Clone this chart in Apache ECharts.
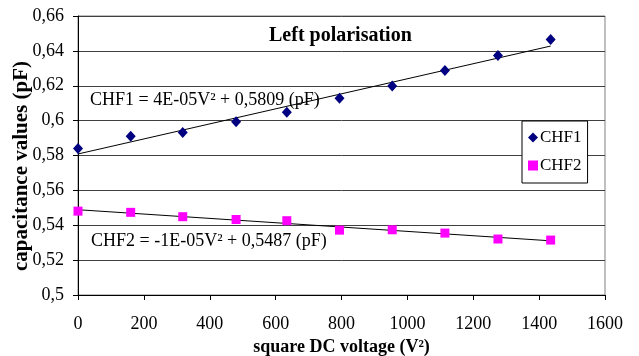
<!DOCTYPE html>
<html>
<head>
<meta charset="utf-8">
<script src="https://cdn.jsdelivr.net/npm/echarts@6/dist/echarts.min.js"></script>
<style>
html,body{margin:0;padding:0;background:#fff;}
#chart{width:639px;height:356px;}
</style>
</head>
<body>
<div id="chart"></div>
<script>
// ---- data ----
var voltageSq = [0, 160, 318, 480, 634, 794, 954, 1114, 1275, 1435];
var chf1 = [0.584, 0.5911, 0.5932, 0.5993, 0.6048, 0.6129, 0.6199, 0.6287, 0.6373, 0.6465];
var chf2 = [0.5481, 0.5474, 0.5449, 0.5433, 0.5426, 0.5372, 0.5374, 0.5355, 0.5321, 0.5315];
var seriesNames = ['CHF1', 'CHF2'];
var xTickLabels = ['0', '200', '400', '600', '800', '1000', '1200', '1400', '1600'];
var yTickLabels = ['0,5', '0,52', '0,54', '0,56', '0,58', '0,6', '0,62', '0,64', '0,66'];
var chartTitle = 'Left polarisation';
var eq1 = 'CHF1 = 4E-05V\u00B2 + 0,5809 (pF)';
var eq2 = 'CHF2 = -1E-05V\u00B2 + 0,5487 (pF)';
var xName = 'square DC voltage (V\u00B2)';
var yName = 'capacitance values (pF)';

function pairs(xs, ys) { return xs.map(function (x, i) { return [x, ys[i]]; }); }
function fitLine(xs, ys) {
  var n = xs.length, sx = 0, sy = 0, sxx = 0, sxy = 0;
  for (var i = 0; i < n; i++) { sx += xs[i]; sy += ys[i]; sxx += xs[i] * xs[i]; sxy += xs[i] * ys[i]; }
  var b = (n * sxy - sx * sy) / (n * sxx - sx * sx);
  var a = (sy - b * sx) / n;
  var x0 = xs[0], x1 = xs[n - 1];
  return [[x0, a + b * x0], [x1, a + b * x1]];
}

var FONT = 'Liberation Serif';
var chart = echarts.init(document.getElementById('chart'), null, { renderer: 'canvas' });
var option = {
  animation: false,
  backgroundColor: '#fff',
  textStyle: { fontFamily: FONT, color: '#000' },
  title: {
    text: chartTitle, left: 269, top: 26, padding: 0,
    textStyle: { fontFamily: FONT, fontWeight: 'bold', fontSize: 20, color: '#000' }
  },
  legend: {
    data: [{ name: seriesNames[0], icon: 'diamond' }, { name: seriesNames[1], icon: 'rect' }],
    orient: 'vertical', left: 522, top: 121,
    backgroundColor: '#fff', borderColor: '#000', borderWidth: 1,
    padding: [8, 6, 9, 6], itemGap: 11, itemWidth: 10, itemHeight: 10,
    itemStyle: { opacity: 1 },
    textStyle: { fontFamily: FONT, fontSize: 17, color: '#000', padding: [0, 0, 0, -3] }
  },
  grid: { left: 78, right: 34, top: 16, bottom: 61, containLabel: false, outerBoundsMode: 'none',
    show: true, borderColor: '#808080', borderWidth: 1, backgroundColor: 'transparent' },
  xAxis: {
    type: 'value', min: 0, max: 1600, interval: 200,
    name: xName, nameLocation: 'middle', nameGap: 42,
    nameTextStyle: { fontFamily: FONT, fontWeight: 'bold', fontSize: 18, color: '#000' },
    axisLine: { show: true, lineStyle: { color: '#000', width: 1 } },
    axisTick: { show: true, length: 5, lineStyle: { color: '#000' } },
    axisLabel: { fontFamily: FONT, fontSize: 18, color: '#000', margin: 20,
      formatter: function (v) { return xTickLabels[Math.round(v / 200)]; } },
    splitLine: { show: false }
  },
  yAxis: {
    type: 'value', min: 0.5, max: 0.66, interval: 0.02,
    axisLine: { show: true, lineStyle: { color: '#000', width: 1 } },
    axisTick: { show: true, length: 5, lineStyle: { color: '#000' } },
    axisLabel: { fontFamily: FONT, fontSize: 18, color: '#000', margin: 14,
      formatter: function (v) { return yTickLabels[Math.round((v - 0.5) / 0.02)]; } },
    splitLine: { show: true, lineStyle: { color: '#404040', width: 1 } }
  },
  graphic: [
    { type: 'text', left: 90, top: 91, z: 10, style: { text: eq1, fontFamily: FONT, fontSize: 18, fill: '#000' } },
    { type: 'text', left: 91, top: 232, z: 10, style: { text: eq2, fontFamily: FONT, fontSize: 18, fill: '#000' } },
    { type: 'text', x: 22, y: 166, rotation: Math.PI / 2, z: 10,
      style: { text: yName, fontFamily: FONT, fontWeight: 'bold', fontSize: 21, fill: '#000', align: 'center', verticalAlign: 'middle' } }
  ],
  series: [
    { name: 'trend1', type: 'line', data: fitLine(voltageSq, chf1), showSymbol: false, symbol: 'none',
      lineStyle: { color: '#000', width: 1 }, silent: true, z: 3 },
    { name: 'trend2', type: 'line', data: fitLine(voltageSq, chf2), showSymbol: false, symbol: 'none',
      lineStyle: { color: '#000', width: 1 }, silent: true, z: 3 },
    { name: seriesNames[0], type: 'scatter', data: pairs(voltageSq, chf1), symbol: 'diamond', symbolSize: [10, 11],
      itemStyle: { color: '#000080', opacity: 1 }, z: 4 },
    { name: seriesNames[1], type: 'scatter', data: pairs(voltageSq, chf2), symbol: 'rect', symbolSize: 9,
      itemStyle: { color: '#FF00FF', opacity: 1 }, z: 4 }
  ]
};
chart.setOption(option);
</script>
</body>
</html>
